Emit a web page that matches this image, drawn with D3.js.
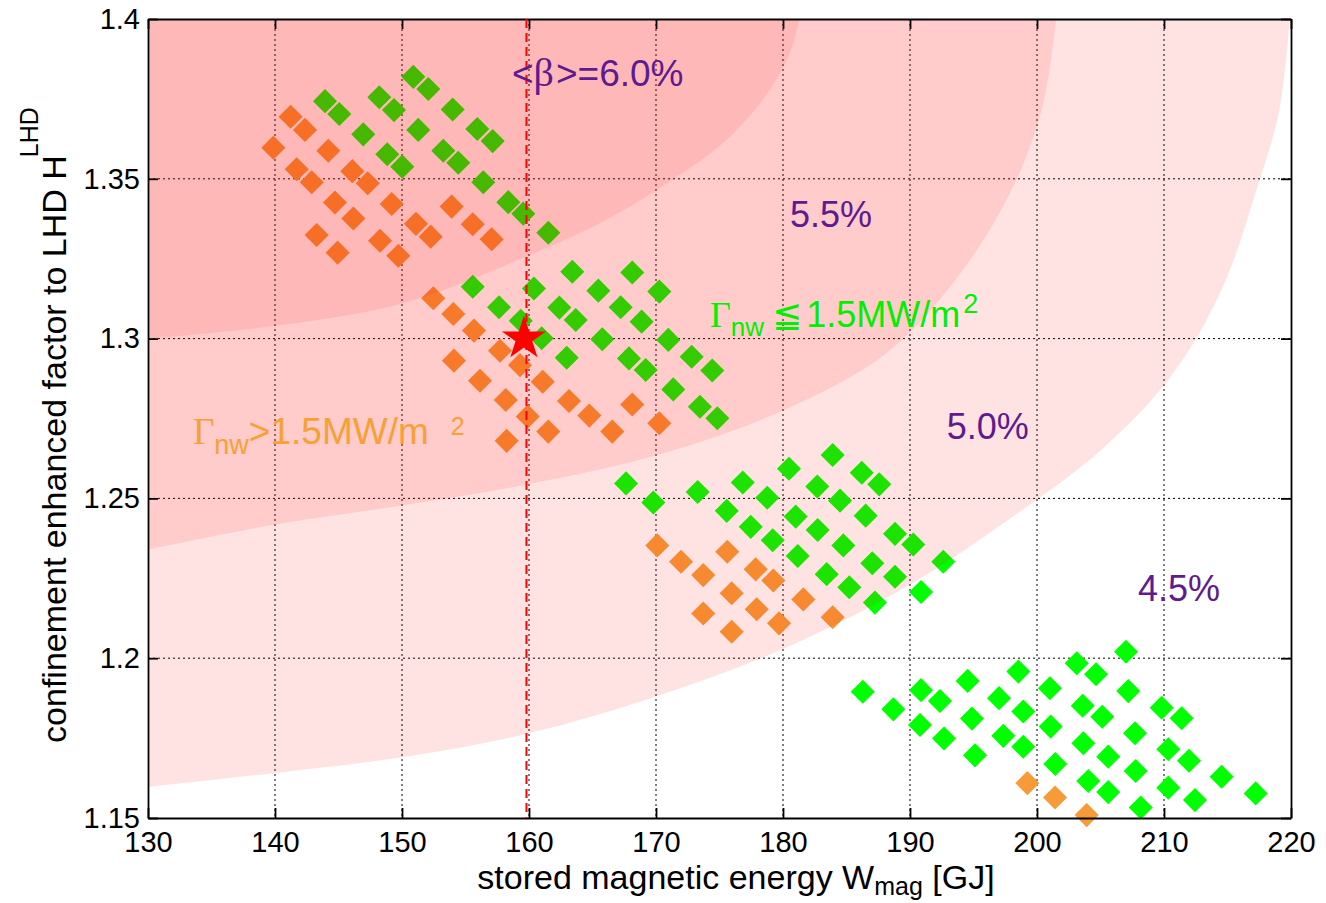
<!DOCTYPE html>
<html>
<head>
<meta charset="utf-8">
<script src="https://cdn.jsdelivr.net/npm/d3@7"></script>
<style>
  body { margin: 0; background: #fff; }
  svg text { font-family: "Liberation Sans", Arial, sans-serif; }
</style>
</head>
<body>
<script>
// chart size
var width = 1326;
var height = 903;
var margin = {left: 148, right: 35, top: 19, bottom: 85};

// design scan points [W_mag (GJ), H factor]
// green = neutron wall load <= 1.5 MW/m2
var greenPoints = [
  [150.89,1.3819],[152.07,1.3781],[143.94,1.3743],[145.06,1.3703],[148.21,1.3755],
  [149.37,1.3715],[153.99,1.3717],[146.95,1.3639],[151.28,1.3653],[155.93,1.3656],
  [157.14,1.3618],[148.84,1.3577],[150.02,1.3538],[153.25,1.3588],[154.43,1.3550],
  [156.40,1.3489],[158.37,1.3427],[159.55,1.3391],[161.52,1.3331],
  [163.41,1.3209],[168.13,1.3207],[155.57,1.3162],[160.39,1.3157],[165.46,1.3150],
  [170.26,1.3147],[157.64,1.3098],[162.39,1.3097],[167.22,1.3098],[163.68,1.3058],
  [168.87,1.3053],[159.35,1.3056],[161.00,1.3001],[165.77,1.2998],[170.97,1.2996],
  [162.97,1.2940],[167.87,1.2938],[172.81,1.2943],[169.19,1.2902],[174.43,1.2900],
  [171.36,1.2841],[173.46,1.2787],[174.83,1.2751],
  [167.64,1.2547],[169.79,1.2487],[173.28,1.2520],[176.83,1.2550],[180.47,1.2593],
  [183.91,1.2636],[186.20,1.2580],[187.58,1.2544],[182.70,1.2537],[178.76,1.2502],
  [184.49,1.2493],[175.57,1.2461],[181.00,1.2443],[186.51,1.2446],[177.46,1.2411],
  [182.73,1.2401],[188.82,1.2389],[190.26,1.2356],[179.19,1.2369],[184.75,1.2353],
  [181.16,1.2320],[187.03,1.2297],[192.62,1.2302],[183.44,1.2263],[188.82,1.2255],
  [185.22,1.2222],[190.87,1.2207],[187.24,1.2174],
  [186.28,1.1895],[188.69,1.1840],[190.87,1.1900],[192.36,1.1866],[190.79,1.1791],
  [192.68,1.1749],[194.54,1.1929],[197.01,1.1875],[194.88,1.1811],[197.35,1.1757],
  [195.12,1.1696],[198.53,1.1958],[198.92,1.1833],[198.92,1.1723],[201.02,1.1906],
  [201.08,1.1786],[201.44,1.1669],[203.13,1.1984],[204.65,1.1950],[207.01,1.2020],
  [207.19,1.1897],[203.60,1.1851],[205.14,1.1817],[207.72,1.1765],[203.65,1.1734],
  [205.61,1.1692],[207.77,1.1647],[204.04,1.1616],[205.61,1.1581],[208.17,1.1533],
  [209.82,1.1845],[211.39,1.1812],[210.34,1.1715],[211.97,1.1679],[210.34,1.1595],
  [212.44,1.1556],[214.54,1.1629],[217.22,1.1577]
];
// orange = neutron wall load > 1.5 MW/m2
var orangePoints = [
  [141.23,1.3694],[142.36,1.3653],[139.87,1.3597],[144.20,1.3588],[141.71,1.3530],
  [142.89,1.3489],[146.09,1.3524],[147.30,1.3486],[144.72,1.3426],[146.17,1.3376],
  [149.19,1.3421],[143.28,1.3324],[144.93,1.3269],[151.10,1.3359],[152.26,1.3319],
  [148.27,1.3306],[149.71,1.3259],[153.91,1.3413],[155.57,1.3358],[157.06,1.3311],
  [152.46,1.3126],[154.04,1.3077],[155.67,1.3025],[157.72,1.2962],[154.09,1.2931],
  [159.29,1.2917],[156.14,1.2868],[161.08,1.2865],[158.17,1.2808],[163.15,1.2805],
  [168.13,1.2794],[164.75,1.2759],[159.90,1.2756],[170.26,1.2735],[166.56,1.2709],
  [161.52,1.2709],[158.24,1.2680],
  [170.10,1.2353],[171.97,1.2302],[173.72,1.2260],[175.61,1.2333],[177.85,1.2278],
  [179.24,1.2243],[175.96,1.2203],[173.72,1.2140],[177.93,1.2153],[181.60,1.2184],
  [179.69,1.2109],[175.96,1.2083],[183.91,1.2128],
  [199.24,1.1609],[201.42,1.1564],[203.91,1.1509]
];

// beta contours (upper-left side has the higher beta)
var beta60 = [[130,1.300],[140,1.304],[150,1.311],[160,1.326],[166,1.337],
  [171,1.349],[175.3,1.3613],[178.6,1.3758],[180.5,1.389],[181.3,1.4]];
var beta55 = [[130,1.234],[140,1.2418],[150,1.2478],[160,1.2545],[170,1.2635],[180,1.2775],
  [188,1.295],[193.5,1.318],[197.8,1.345],[200.4,1.372],[201.5,1.4]];
var beta50 = [[130,1.1597],[140,1.1641],[150,1.1690],[160,1.1765],[170,1.1880],[180,1.2029],
  [190,1.2230],[198,1.2440],[205,1.2650],[210.5,1.2880],[214.5,1.315],[217.4,1.348],
  [219.1,1.3717],[219.9,1.4]];

var designPoint = [159.6, 1.3];
var designW = 159.8;

var xTicks = [130,140,150,160,170,180,190,200,210,220];
var yTicks = [1.15,1.2,1.25,1.3,1.35,1.4];
var yTickLabels = ['1.15','1.2','1.25','1.3','1.35','1.4'];

var svg = d3.select('body').append('svg')
  .attr('width', width)
  .attr('height', height);

var x = d3.scaleLinear().domain([130, 220]).range([margin.left, width - margin.right]);
var y = d3.scaleLinear().domain([1.15, 1.4]).range([height - margin.bottom, margin.top]);

// grid (dotted)
var grid = svg.append('g');
grid.selectAll('.vg').data(xTicks.slice(1, -1)).enter().append('line')
  .attr('x1', d => x(d)).attr('x2', d => x(d))
  .attr('y1', y(1.4)).attr('y2', y(1.15))
  .attr('stroke', '#000').attr('stroke-width', 1).attr('stroke-dasharray', '2,3');
grid.selectAll('.hg').data(yTicks.slice(1, -1)).enter().append('line')
  .attr('x1', x(130)).attr('x2', x(220))
  .attr('y1', d => y(d)).attr('y2', d => y(d))
  .attr('stroke', '#000').attr('stroke-width', 1).attr('stroke-dasharray', '2,3');

// markers (drawn under the translucent beta bands)
var diamond = d3.symbol().type(d3.symbolSquare).size(290);
svg.append('g').selectAll('path.g').data(greenPoints).enter().append('path')
  .attr('d', diamond)
  .attr('transform', d => 'translate(' + x(d[0]) + ',' + y(d[1]) + ') rotate(45)')
  .attr('fill', '#00ff00');
svg.append('g').selectAll('path.o').data(orangePoints).enter().append('path')
  .attr('d', diamond)
  .attr('transform', d => 'translate(' + x(d[0]) + ',' + y(d[1]) + ') rotate(45)')
  .attr('fill', '#f79a38');

// beta bands: each region above a contour gets one more red layer
var band = d3.area()
  .x(d => x(d[0]))
  .y0(y(1.4))
  .y1(d => y(d[1]))
  .curve(d3.curveCatmullRom.alpha(0.5));
[[beta50, 0.11], [beta55, 0.105], [beta60, 0.09]].forEach(function(b) {
  svg.append('path').datum(b[0])
    .attr('d', band)
    .attr('fill', '#ff0000')
    .attr('fill-opacity', b[1]);
});

// axes: ticks pointing inward, box all round
var fontTick = 29;
svg.append('g')
  .attr('transform', 'translate(0,' + y(1.15) + ')')
  .call(d3.axisBottom(x).tickValues(xTicks).tickSize(-10).tickSizeOuter(0).tickPadding(13));
svg.append('g')
  .attr('transform', 'translate(' + x(130) + ',0)')
  .call(d3.axisLeft(y).tickValues(yTicks).tickFormat((d, i) => yTickLabels[i])
    .tickSize(-10).tickSizeOuter(0).tickPadding(8));
svg.append('g')
  .attr('transform', 'translate(0,' + y(1.4) + ')')
  .call(d3.axisTop(x).tickValues(xTicks).tickSize(-10).tickSizeOuter(0).tickFormat(''));
svg.append('g')
  .attr('transform', 'translate(' + x(220) + ',0)')
  .call(d3.axisRight(y).tickValues(yTicks).tickSize(-10).tickSizeOuter(0).tickFormat(''));
svg.selectAll('.domain, .tick line').attr('stroke', '#000').attr('stroke-width', 1.8);
svg.selectAll('.tick text').attr('font-size', fontTick).attr('fill', '#000')
  .attr('font-family', '"Liberation Sans", Arial, sans-serif');

// design point: dashed line and star
svg.append('line')
  .attr('x1', x(designW)).attr('x2', x(designW))
  .attr('y1', y(1.4)).attr('y2', y(1.15))
  .attr('stroke', '#ff0000').attr('stroke-width', 2).attr('stroke-dasharray', '9,5');
svg.append('path')
  .attr('d', d3.symbol().type(d3.symbolStar).size(600))
  .attr('transform', 'translate(' + x(designPoint[0]) + ',' + y(designPoint[1]) + ')')
  .attr('fill', '#ff0000');

// beta labels
var purple = '#5e1a8e';
var b6 = svg.append('text')
  .attr('x', x(158.66)).attr('y', y(1.379))
  .attr('font-size', 37).attr('fill', purple);
b6.append('tspan').text('<');
b6.append('tspan').attr('font-family', '"Liberation Serif", serif').attr('font-size', 40).text('β');
b6.append('tspan').attr('dx', 2).text('>=6.0%');

var betaLabels = [['5.5%', 180.55, 1.3349], ['5.0%', 192.9, 1.2686], ['4.5%', 207.95, 1.2179]];
svg.selectAll('.bl').data(betaLabels).enter().append('text')
  .attr('x', d => x(d[1])).attr('y', d => y(d[2]))
  .attr('font-size', 36).attr('fill', purple)
  .text(d => d[0]);

// wall load labels
var gl = svg.append('text')
  .attr('x', x(174.25)).attr('y', y(1.3036))
  .attr('font-size', 36).attr('fill', '#00f000');
gl.append('tspan').attr('font-family', '"Liberation Serif", serif').text('Γ');
gl.append('tspan').attr('font-size', 26).attr('dy', 9).text('nw');
gl.append('tspan').attr('font-family', '"DejaVu Sans", sans-serif').attr('font-size', 36)
  .attr('dy', -9).attr('dx', 8).text('≦');
gl.append('tspan').attr('dx', 4).text('1.5MW/m');
gl.append('tspan').attr('font-size', 27).attr('dy', -14).attr('dx', 3).text('2');

var ol = svg.append('text')
  .attr('x', x(133.54)).attr('y', y(1.267))
  .attr('font-size', 37).attr('fill', '#f7a035');
ol.append('tspan').attr('font-family', '"Liberation Serif", serif').text('Γ');
ol.append('tspan').attr('font-size', 27).attr('dy', 10).text('nw');
ol.append('tspan').attr('dy', -10).text('>1.5MW/m');
ol.append('tspan').attr('font-size', 25).attr('dy', -9).attr('dx', 22).text('2');

// axis titles
var xl = svg.append('text')
  .attr('x', 736).attr('y', 889)
  .attr('text-anchor', 'middle').attr('font-size', 34).attr('fill', '#000');
xl.append('tspan').text('stored magnetic energy W');
xl.append('tspan').attr('font-size', 25).attr('dy', 6).text('mag');
xl.append('tspan').attr('dy', -6).text(' [GJ]');

var yl = svg.append('text')
  .attr('transform', 'translate(66,425) rotate(-90)')
  .attr('text-anchor', 'middle').attr('font-size', 34).attr('fill', '#000');
yl.append('tspan').text('confinement enhanced factor to LHD H');
yl.append('tspan').attr('font-size', 25).attr('dy', -28).attr('dx', -2).text('LHD');
</script>
</body>
</html>
